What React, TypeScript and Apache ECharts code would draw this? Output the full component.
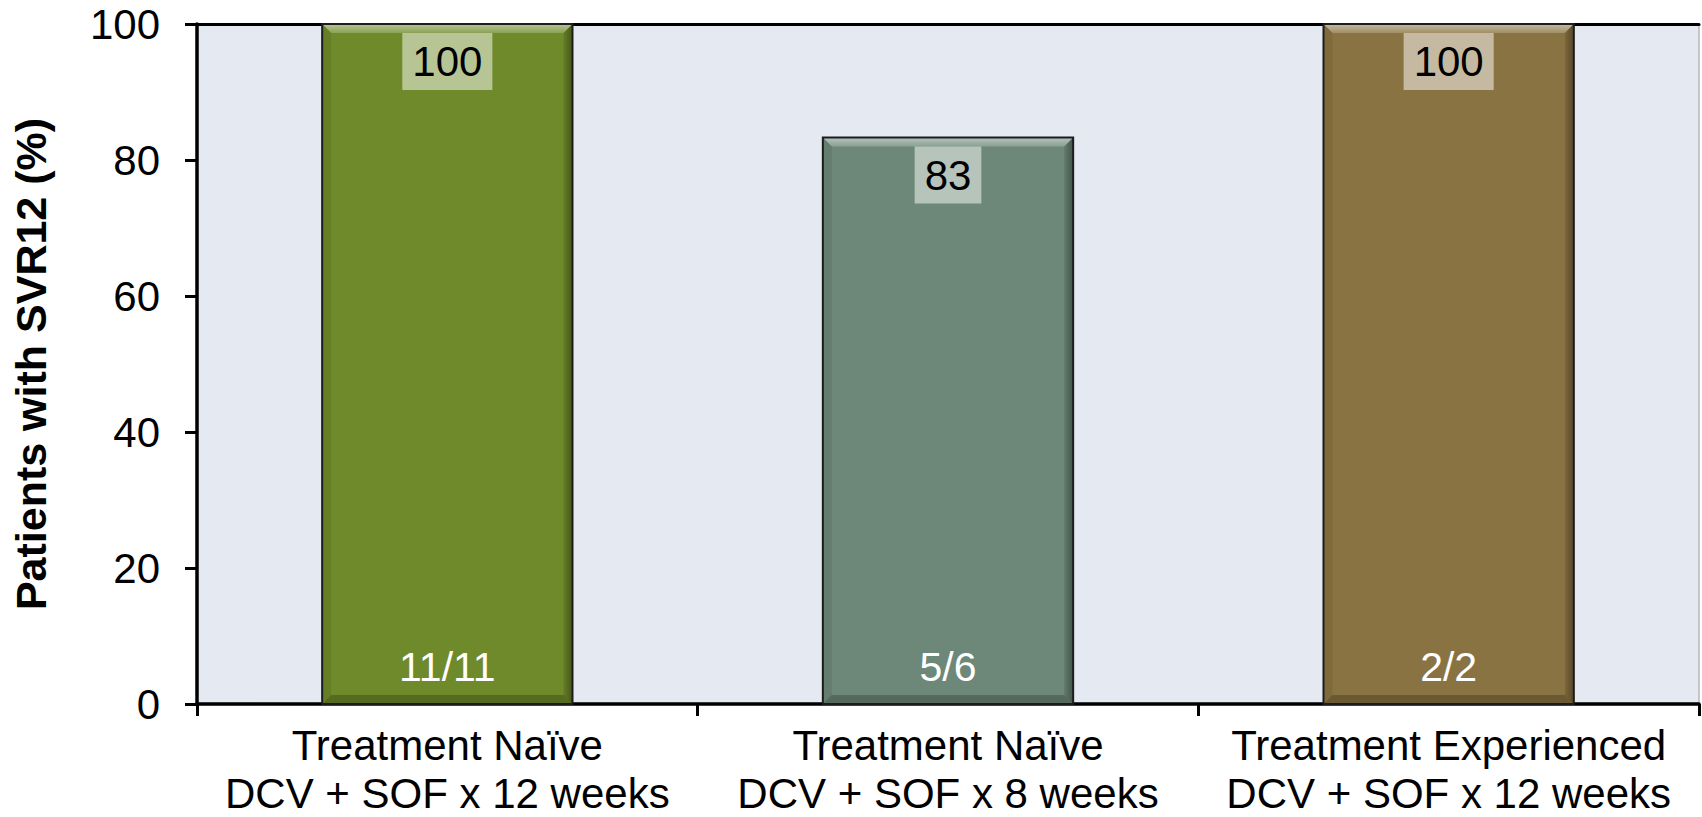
import React, { useEffect, useRef } from "react";
import * as echarts from "echarts";

const categories = [
  "Treatment Naïve\nDCV + SOF x 12 weeks",
  "Treatment Naïve\nDCV + SOF x 8 weeks",
  "Treatment Experienced\nDCV + SOF x 12 weeks",
];
const svrValues = [100, 83.3, 100];
const valueLabels = ["100", "83", "100"];
const fractionLabels = ["11/11", "5/6", "2/2"];
const yTicks = [0, 20, 40, 60, 80, 100];

const barColors = ["#6F8A2A", "#6D8878", "#8A7342"];
const FONT = "'Liberation Sans', Arial, Helvetica, sans-serif";

export default function App() {
  const ref = useRef<HTMLDivElement>(null);

  useEffect(() => {
    document.body.style.margin = "0";
    if (!ref.current) return;
    const chart = echarts.init(ref.current, undefined, { renderer: "svg" });

    const option: any = {
      animation: false,
      backgroundColor: "#ffffff",
      grid: {
        left: 197,
        right: 3,
        top: 24,
        bottom: 107,
        containLabel: false,
        show: true,
        backgroundColor: "#E5E9F2",
        borderColor: "#9a9a9a",
        borderWidth: 1,
      },
      xAxis: [
        {
          type: "category",
          data: categories,
          position: "bottom",
          axisLine: { show: true, lineStyle: { color: "#000", width: 3.5 } },
          axisTick: {
            show: true,
            alignWithLabel: false,
            length: 12,
            lineStyle: { color: "#000", width: 3 },
          },
          axisLabel: {
            color: "#000",
            fontSize: 42,
            lineHeight: 48,
            fontFamily: FONT,
            margin: 17,
            interval: 0,
          },
          splitLine: { show: false },
        },
        {
          type: "category",
          data: categories,
          position: "top",
          axisLine: { show: true, lineStyle: { color: "#000", width: 3 } },
          axisTick: { show: false },
          axisLabel: { show: false },
          splitLine: { show: false },
        },
      ],
      yAxis: {
        type: "value",
        min: yTicks[0],
        max: yTicks[yTicks.length - 1],
        interval: 20,
        name: "Patients with SVR12 (%)",
        nameLocation: "middle",
        nameGap: 145,
        nameRotate: 90,
        nameTextStyle: {
          color: "#000",
          fontSize: 43,
          fontWeight: "bold",
          fontFamily: FONT,
        },
        axisLine: { show: true, lineStyle: { color: "#000", width: 3.5 } },
        axisTick: {
          show: true,
          inside: false,
          length: 12,
          lineStyle: { color: "#000", width: 3 },
        },
        axisLabel: {
          color: "#000",
          fontSize: 42,
          fontFamily: FONT,
          margin: 37,
        },
        splitLine: { show: false },
      },
      series: [
        {
          type: "custom",
          xAxisIndex: 0,
          data: svrValues.map((v, i) => [i, v]),
          encode: { x: 0, y: 1 },
          z: 2,
          renderItem: (params: any, api: any) => {
            const idx = params.dataIndex;
            const base = api.coord([api.value(0), 0]);
            const top = api.coord([api.value(0), api.value(1)]);
            const bw = api.size([1, 0])[0] * 0.5;
            const x0 = base[0] - bw / 2;
            const x1 = base[0] + bw / 2;
            const y0 = top[1];
            const y1 = base[1];
            const b = 9;
            return {
              type: "group",
              children: [
                {
                  type: "rect",
                  shape: { x: x0, y: y0, width: bw, height: y1 - y0 },
                  style: { fill: barColors[idx] },
                },
                {
                  type: "polygon",
                  shape: {
                    points: [
                      [x0, y0],
                      [x1, y0],
                      [x1 - b, y0 + b],
                      [x0 + b, y0 + b],
                    ],
                  },
                  style: {
                    fill: new echarts.graphic.LinearGradient(0, 0, 0, 1, [
                      { offset: 0, color: "rgba(255,255,255,0.5)" },
                      { offset: 1, color: "rgba(255,255,255,0.2)" },
                    ]),
                  },
                },
                {
                  type: "polygon",
                  shape: {
                    points: [
                      [x0, y0],
                      [x0 + b, y0 + b],
                      [x0 + b, y1 - b],
                      [x0, y1],
                    ],
                  },
                  style: { fill: "rgba(0,0,0,0.08)" },
                },
                {
                  type: "polygon",
                  shape: {
                    points: [
                      [x1, y0],
                      [x1 - b, y0 + b],
                      [x1 - b, y1 - b],
                      [x1, y1],
                    ],
                  },
                  style: {
                    fill: new echarts.graphic.LinearGradient(0, 0, 1, 0, [
                      { offset: 0, color: "rgba(0,0,0,0.1)" },
                      { offset: 1, color: "rgba(0,0,0,0.38)" },
                    ]),
                  },
                },
                {
                  type: "polygon",
                  shape: {
                    points: [
                      [x0, y1],
                      [x0 + b, y1 - b],
                      [x1 - b, y1 - b],
                      [x1, y1],
                    ],
                  },
                  style: { fill: "rgba(0,0,0,0.22)" },
                },
                {
                  type: "rect",
                  shape: { x: x0, y: y0, width: bw, height: y1 - y0 },
                  style: { fill: "none", stroke: "#1c1c1c", lineWidth: 2 },
                },
              ],
            };
          },
        },
        {
          type: "bar",
          xAxisIndex: 0,
          data: svrValues,
          barWidth: "50%",
          z: 5,
          itemStyle: { color: "rgba(0,0,0,0)" },
          label: {
            show: true,
            position: "insideTop",
            distance: 9,
            formatter: (p: any) => valueLabels[p.dataIndex],
            color: "#000",
            fontSize: 42,
            lineHeight: 45,
            fontFamily: FONT,
            backgroundColor: "rgba(255,255,255,0.5)",
            padding: [6, 10],
          },
        },
        {
          type: "bar",
          xAxisIndex: 0,
          data: svrValues,
          barWidth: "50%",
          barGap: "-100%",
          z: 5,
          itemStyle: { color: "rgba(0,0,0,0)" },
          label: {
            show: true,
            position: "insideBottom",
            distance: 16,
            formatter: (p: any) => fractionLabels[p.dataIndex],
            color: "#ffffff",
            fontSize: 41,
            lineHeight: 42,
            fontFamily: FONT,
          },
        },
      ],
    };

    chart.setOption(option);
    return () => {
      chart.dispose();
    };
  }, []);

  return <div ref={ref} style={{ width: 1702, height: 817 }} />;
}
